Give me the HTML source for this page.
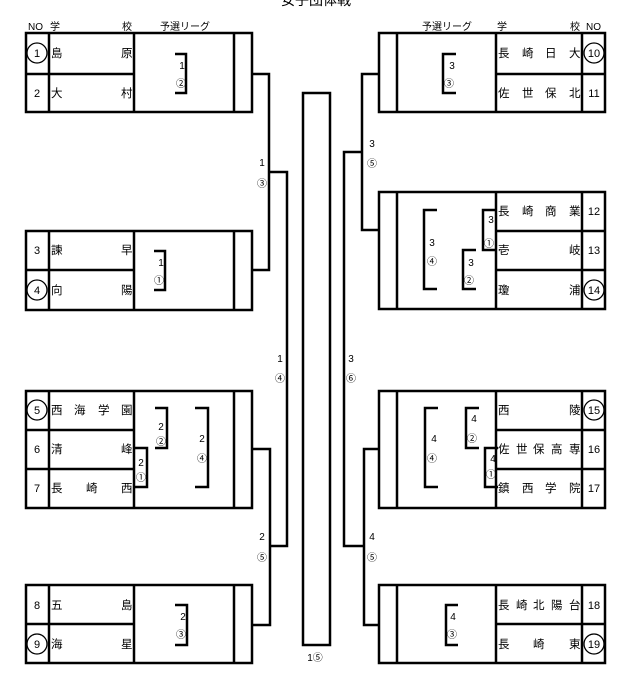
<!DOCTYPE html>
<html><head><meta charset="utf-8"><style>
html,body{margin:0;padding:0;background:#fff;}
svg{display:block;font-family:"Liberation Sans","Noto Sans CJK JP",sans-serif;}
.s{font-size:11.5px;}
.n{font-size:11px;}
.m{font-size:10px;}
</style></head><body>
<svg width="629" height="681" viewBox="0 0 629 681" xmlns="http://www.w3.org/2000/svg">
<text x="316" y="5" font-size="14" text-anchor="middle">女子団体戦</text>
<g class="m" fill="#000">
<text x="28" y="30">NO</text><text x="50" y="30">学</text><text x="122" y="30">校</text><text x="160" y="30">予選リーグ</text>
<text x="422" y="30">予選リーグ</text><text x="497" y="30">学</text><text x="570" y="30">校</text><text x="586" y="30">NO</text>
</g>
<g fill="none" stroke="#000" stroke-width="2.5">
<!-- left boxes -->
<rect x="26" y="33" width="226" height="79"/><line x1="49" y1="33" x2="49" y2="112"/><line x1="134" y1="33" x2="134" y2="112"/><line x1="234" y1="33" x2="234" y2="112"/><line x1="26" y1="74" x2="134" y2="74"/>
<rect x="26" y="231" width="226" height="79"/><line x1="49" y1="231" x2="49" y2="310"/><line x1="134" y1="231" x2="134" y2="310"/><line x1="234" y1="231" x2="234" y2="310"/><line x1="26" y1="270" x2="134" y2="270"/>
<rect x="26" y="391" width="226" height="117"/><line x1="49" y1="391" x2="49" y2="508"/><line x1="134" y1="391" x2="134" y2="508"/><line x1="234" y1="391" x2="234" y2="508"/><line x1="26" y1="430" x2="134" y2="430"/><line x1="26" y1="469" x2="134" y2="469"/>
<rect x="26" y="585" width="226" height="78"/><line x1="49" y1="585" x2="49" y2="663"/><line x1="134" y1="585" x2="134" y2="663"/><line x1="234" y1="585" x2="234" y2="663"/><line x1="26" y1="624" x2="134" y2="624"/>
<!-- right boxes -->
<rect x="379" y="33" width="226" height="79"/><line x1="397" y1="33" x2="397" y2="112"/><line x1="496" y1="33" x2="496" y2="112"/><line x1="582" y1="33" x2="582" y2="112"/><line x1="496" y1="74" x2="605" y2="74"/>
<rect x="379" y="192" width="226" height="117"/><line x1="397" y1="192" x2="397" y2="309"/><line x1="496" y1="192" x2="496" y2="309"/><line x1="582" y1="192" x2="582" y2="309"/><line x1="496" y1="231" x2="605" y2="231"/><line x1="496" y1="270" x2="605" y2="270"/>
<rect x="379" y="391" width="226" height="117"/><line x1="397" y1="391" x2="397" y2="508"/><line x1="496" y1="391" x2="496" y2="508"/><line x1="582" y1="391" x2="582" y2="508"/><line x1="496" y1="430" x2="605" y2="430"/><line x1="496" y1="469" x2="605" y2="469"/>
<rect x="379" y="585" width="226" height="78"/><line x1="397" y1="585" x2="397" y2="663"/><line x1="496" y1="585" x2="496" y2="663"/><line x1="582" y1="585" x2="582" y2="663"/><line x1="496" y1="624" x2="605" y2="624"/>
<!-- center -->
<rect x="303" y="93" width="27" height="552"/>
<!-- left connectors -->
<polyline points="252,74 269,74 269,270 252,270"/>
<polyline points="269,172 287,172 287,546 270,546"/>
<polyline points="252,449 270,449 270,625 252,625"/>
<!-- right connectors -->
<polyline points="379,74 362,74 362,230 379,230"/>
<polyline points="362,152 344,152 344,546 364,546"/>
<polyline points="379,449 364,449 364,625 379,625"/>
<!-- left league brackets -->
<polyline points="175,54 186,54 186,93 175,93"/>
<polyline points="154,251 165,251 165,290 154,290"/>
<polyline points="134,448 147,448 147,487 134,487"/>
<polyline points="155,408 167,408 167,448 155,448"/>
<polyline points="195,408 208,408 208,487 195,487"/>
<polyline points="175,605 187,605 187,645 175,645"/>
<!-- right league brackets -->
<polyline points="456,54 443,54 443,93 456,93"/>
<polyline points="496,210 483,210 483,250 496,250"/>
<polyline points="476,250 463,250 463,289 476,289"/>
<polyline points="437,210 424,210 424,289 437,289"/>
<polyline points="438,408 425,408 425,487 438,487"/>
<polyline points="479,408 466,408 466,448 479,448"/>
<polyline points="498,448 485,448 485,487 498,487"/>
<polyline points="458,605 446,605 446,645 458,645"/>
</g>
<g fill="none" stroke="#000" stroke-width="1.3">
<circle cx="37" cy="53" r="10"/><circle cx="37" cy="290" r="10"/><circle cx="37" cy="410" r="10"/><circle cx="37" cy="644" r="10"/>
<circle cx="594" cy="53" r="10"/><circle cx="594" cy="290" r="10"/><circle cx="594" cy="410" r="10"/><circle cx="594" cy="644" r="10"/>
</g>
<g class="n" text-anchor="middle">
<text x="37" y="57">1</text><text x="37" y="97">2</text><text x="37" y="254">3</text><text x="37" y="294">4</text>
<text x="37" y="414">5</text><text x="37" y="453">6</text><text x="37" y="492">7</text><text x="37" y="609">8</text><text x="37" y="648">9</text>
<text x="594" y="57">10</text><text x="594" y="97">11</text><text x="594" y="215">12</text><text x="594" y="254">13</text><text x="594" y="294">14</text>
<text x="594" y="414">15</text><text x="594" y="453">16</text><text x="594" y="492">17</text><text x="594" y="609">18</text><text x="594" y="648">19</text>
</g>
<g class="s">
<text x="51" y="57">島</text><text x="121" y="57">原</text>
<text x="51" y="97">大</text><text x="121" y="97">村</text>
<text x="51" y="254">諫</text><text x="121" y="254">早</text>
<text x="51" y="294">向</text><text x="121" y="294">陽</text>
<text x="51" y="414">西</text><text x="74" y="414">海</text><text x="98" y="414">学</text><text x="121" y="414">園</text>
<text x="51" y="453">清</text><text x="121" y="453">峰</text>
<text x="51" y="492">長</text><text x="86" y="492">崎</text><text x="121" y="492">西</text>
<text x="51" y="609">五</text><text x="121" y="609">島</text>
<text x="51" y="648">海</text><text x="121" y="648">星</text>
<text x="498" y="57">長</text><text x="522" y="57">崎</text><text x="545" y="57">日</text><text x="569" y="57">大</text>
<text x="498" y="97">佐</text><text x="522" y="97">世</text><text x="545" y="97">保</text><text x="569" y="97">北</text>
<text x="498" y="215">長</text><text x="522" y="215">崎</text><text x="545" y="215">商</text><text x="569" y="215">業</text>
<text x="498" y="254">壱</text><text x="569" y="254">岐</text>
<text x="498" y="294">瓊</text><text x="569" y="294">浦</text>
<text x="498" y="414">西</text><text x="569" y="414">陵</text>
<text x="498" y="453">佐</text><text x="516" y="453">世</text><text x="533" y="453">保</text><text x="551" y="453">高</text><text x="569" y="453">専</text>
<text x="498" y="492">鎮</text><text x="522" y="492">西</text><text x="545" y="492">学</text><text x="569" y="492">院</text>
<text x="498" y="609">長</text><text x="516" y="609">崎</text><text x="533" y="609">北</text><text x="551" y="609">陽</text><text x="569" y="609">台</text>
<text x="498" y="648">長</text><text x="533" y="648">崎</text><text x="569" y="648">東</text>
</g>
<g class="m" text-anchor="middle">
<text x="182" y="69">1</text><text x="181" y="87">②</text>
<text x="161" y="266">1</text><text x="159" y="284">①</text>
<text x="141" y="466">2</text><text x="141" y="481">①</text>
<text x="161" y="430">2</text><text x="161" y="445">②</text>
<text x="202" y="442">2</text><text x="202" y="462">④</text>
<text x="183" y="620">2</text><text x="181" y="638">③</text>
<text x="452" y="69">3</text><text x="449" y="87">③</text>
<text x="491" y="223">3</text><text x="489" y="247">①</text>
<text x="471" y="266">3</text><text x="469" y="284">②</text>
<text x="432" y="246">3</text><text x="432" y="265">④</text>
<text x="434" y="442">4</text><text x="432" y="462">④</text>
<text x="474" y="422">4</text><text x="472" y="442">②</text>
<text x="493" y="462">4</text><text x="491" y="478">①</text>
<text x="453" y="620">4</text><text x="452" y="638">③</text>
<text x="262" y="166">1</text><text x="262" y="187">③</text>
<text x="280" y="362">1</text><text x="280" y="382">④</text>
<text x="262" y="540">2</text><text x="262" y="561">⑤</text>
<text x="372" y="147">3</text><text x="372" y="167">⑤</text>
<text x="351" y="362">3</text><text x="351" y="382">⑥</text>
<text x="372" y="540">4</text><text x="372" y="561">⑤</text>
<text x="315" y="661">1⑤</text>
</g>
</svg>
</body></html>
